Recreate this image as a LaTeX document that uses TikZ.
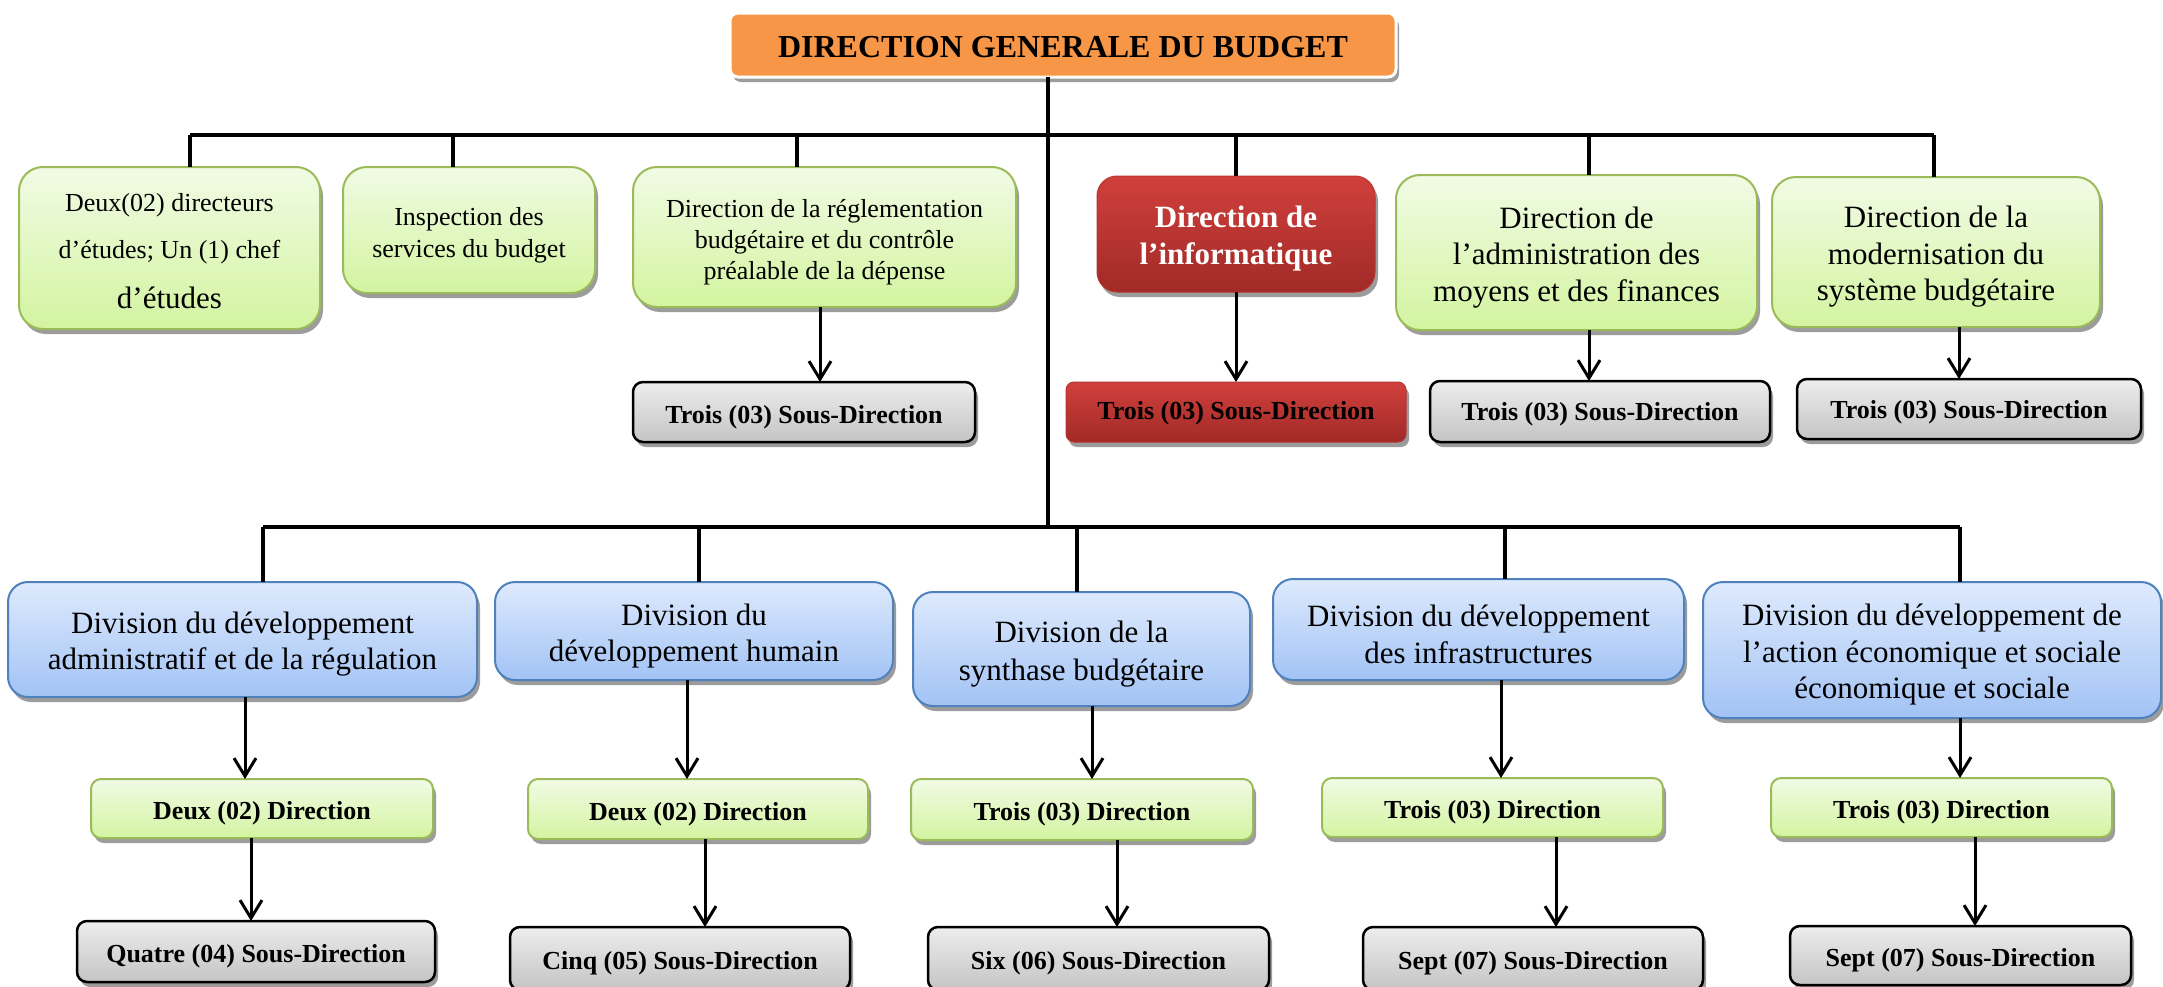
\documentclass[tikz,border=0pt]{standalone}
\usepackage{fontspec}
\setmainfont{Liberation Serif}
\usetikzlibrary{arrows.meta,shadows}

\definecolor{orangebox}{HTML}{F79646}
\definecolor{greentop}{HTML}{F1FBE5}
\definecolor{greenbot}{HTML}{D3F4A0}
\definecolor{greenline}{HTML}{9BBB59}
\definecolor{bluetop}{HTML}{DEEAFD}
\definecolor{bluebot}{HTML}{A2C3F5}
\definecolor{blueline}{HTML}{4F81BD}
\definecolor{redtop}{HTML}{D0403C}
\definecolor{redbot}{HTML}{A12A27}
\definecolor{redline}{HTML}{B83532}
\definecolor{graytop}{HTML}{EDEDED}
\definecolor{graybot}{HTML}{C4C4C4}
\definecolor{shadowgray}{HTML}{9C9C9C}

% box from its top-left (x1,y1) to bottom-right (x2,y2) corner, with its text set slightly low
\newcommand\boxat[8]{%
  \node[#1,anchor=north west,minimum width={#5-#3},minimum height={#6-#4}] (#2) at (#3,#4) {};
  \node[boxtext,#7] (#2-text) at ([yshift=-5pt]#2.center) {#8};}

\begin{document}
\begin{tikzpicture}[x=1pt,y=-1pt,
  shadowed/.style={drop shadow={shadow xshift=3pt,shadow yshift=-5pt,fill=shadowgray,opacity=1}},
  basebox/.style={shadowed,inner sep=0pt,outer sep=0pt},
  boxtext/.style={inner sep=0pt,align=center},
  titlebox/.style={basebox,fill=orangebox,draw=white,line width=3pt,rounded corners=8pt},
  leafgreen/.style={basebox,draw=greenline,line width=2pt,top color=greentop,bottom color=greenbot},
  bigdir/.style={leafgreen,rounded corners=24pt},
  smalldir/.style={leafgreen,rounded corners=10pt},
  reddir/.style={basebox,draw=redline,line width=1pt,top color=redtop,bottom color=redbot,rounded corners=20pt},
  redsub/.style={basebox,draw=redline,line width=1pt,top color=redtop,bottom color=redbot,rounded corners=8pt},
  divbox/.style={basebox,draw=blueline,line width=2pt,top color=bluetop,bottom color=bluebot,rounded corners=20pt},
  subbox/.style={basebox,draw=black,line width=2.5pt,top color=graytop,bottom color=graybot,rounded corners=10pt},
  boldlabel/.style={font=\bfseries\fontsize{26}{30}\selectfont},
  conn/.style={line width=3.5pt},
  arr/.style={line width=3pt,-{Straight Barb[length=18pt,width=22pt,line width=3pt]}}
]
\useasboundingbox (0,0) rectangle (2163,986);
\fill[white] (0,0) rectangle (2163,986);

% head of the organisation
\boxat{titlebox}{T}{730}{13}{1396}{77}{yshift=3pt,font=\bfseries\fontsize{32}{38}\selectfont}{DIRECTION GENERALE DU BUDGET}

% first level
\boxat{bigdir}{A1}{19}{167}{320}{329}{yshift=2pt,font=\fontsize{26}{47}\selectfont}{Deux(02) directeurs\\d’études; Un (1) chef\\[3pt]{\fontsize{31}{37}\selectfont d’études}}
\boxat{bigdir}{A2}{343}{167}{595}{293}{font=\fontsize{26}{32}\selectfont}{Inspection des\\services du budget}
\boxat{bigdir}{A3}{633}{167}{1016}{307}{font=\fontsize{26}{31}\selectfont}{Direction de la réglementation\\budgétaire et du contrôle\\préalable de la dépense}
\boxat{reddir}{A4}{1097}{176}{1375}{292}{text=white,font=\bfseries\fontsize{31}{37}\selectfont}{Direction de\\l’informatique}
\boxat{bigdir}{A5}{1396}{175}{1757}{330}{font=\fontsize{31}{36.5}\selectfont}{Direction de\\l’administration des\\moyens et des finances}
\boxat{bigdir}{A6}{1772}{177}{2100}{327}{font=\fontsize{31}{36.5}\selectfont}{Direction de la\\modernisation du\\système budgétaire}

\boxat{subbox}{SA3}{633}{382}{975}{442}{boldlabel}{Trois (03) Sous-Direction}
\boxat{redsub}{SA4}{1066}{382}{1406}{442}{boldlabel,yshift=4pt}{Trois (03) Sous-Direction}
\boxat{subbox}{SA5}{1430}{381}{1770}{442}{boldlabel,yshift=2pt}{Trois (03) Sous-Direction}
\boxat{subbox}{SA6}{1797}{379}{2141}{439}{boldlabel,yshift=2pt}{Trois (03) Sous-Direction}

% divisions
\boxat{divbox}{B1}{8}{582}{477}{697}{font=\fontsize{31}{36}\selectfont}{Division du développement\\administratif et de la régulation}
\boxat{divbox}{B2}{495}{582}{893}{680}{font=\fontsize{31}{36}\selectfont}{Division du\\développement humain}
\boxat{divbox}{B3}{913}{592}{1250}{706}{font=\fontsize{31}{38}\selectfont}{Division de la\\synthase budgétaire}
\boxat{divbox}{B4}{1273}{579}{1684}{680}{font=\fontsize{31}{37}\selectfont}{Division du développement\\des infrastructures}
\boxat{divbox}{B5}{1703}{582}{2161}{718}{font=\fontsize{31}{36.5}\selectfont}{Division du développement de\\l’action économique et sociale\\économique et sociale}

\boxat{smalldir}{G1}{91}{779}{433}{838}{boldlabel}{Deux (02) Direction}
\boxat{smalldir}{G2}{528}{779}{868}{839}{boldlabel}{Deux (02) Direction}
\boxat{smalldir}{G3}{911}{779}{1253}{840}{boldlabel}{Trois (03) Direction}
\boxat{smalldir}{G4}{1322}{778}{1663}{837}{boldlabel}{Trois (03) Direction}
\boxat{smalldir}{G5}{1771}{778}{2112}{837}{boldlabel}{Trois (03) Direction}

\boxat{subbox}{S1}{77}{921}{435}{982}{boldlabel}{Quatre (04) Sous-Direction}
\boxat{subbox}{S2}{510}{927}{850}{990}{boldlabel}{Cinq (05) Sous-Direction}
\boxat{subbox}{S3}{928}{927}{1269}{990}{boldlabel}{Six (06) Sous-Direction}
\boxat{subbox}{S4}{1363}{927}{1703}{990}{boldlabel}{Sept (07) Sous-Direction}
\boxat{subbox}{S5}{1790}{926}{2131}{985}{boldlabel}{Sept (07) Sous-Direction}

% bus points
\coordinate (trunk) at (1048,135);
\coordinate (trunkend) at (1048,527);
\coordinate (dA1) at (190,135);
\coordinate (dA2) at (453,135);
\coordinate (dA3) at (797,135);
\coordinate (dA4) at (1236,135);
\coordinate (dA5) at (1589,135);
\coordinate (dA6) at (1934,135);
\coordinate (dB1) at (263,527);
\coordinate (dB2) at (699,527);
\coordinate (dB3) at (1077,527);
\coordinate (dB4) at (1505,527);
\coordinate (dB5) at (1960,527);

% arrow columns
\coordinate (xA3) at (820,0);
\coordinate (xA4) at (1236,0);
\coordinate (xA5) at (1589,0);
\coordinate (xA6) at (1959,0);
\coordinate (xB1) at (245,0);
\coordinate (xB2) at (687,0);
\coordinate (xB3) at (1092,0);
\coordinate (xB4) at (1501,0);
\coordinate (xB5) at (1960,0);
\coordinate (xG1) at (251,0);
\coordinate (xG2) at (705,0);
\coordinate (xG3) at (1117,0);
\coordinate (xG4) at (1556,0);
\coordinate (xG5) at (1975,0);

% trunk and buses
\draw[conn] (T.south -| trunk) -- (trunkend);
\draw[conn] (dA1) -- (dA6);
\draw[conn] (dB1) -- (dB5);
\foreach \n in {A1,A2,A3,A4,A5,A6,B1,B2,B3,B4,B5}
  \draw[conn] (d\n) -- (d\n |- \n.north);

% arrows to the sub-directions
\foreach \n in {A3,A4,A5,A6}
  \draw[arr] (\n.south -| x\n) -- (S\n.north -| x\n);
\foreach \n in {1,...,5}
  \draw[arr] (B\n.south -| xB\n) -- (G\n.north -| xB\n);
\foreach \n in {1,...,5}
  \draw[arr] (G\n.south -| xG\n) -- (S\n.north -| xG\n);
\end{tikzpicture}
\end{document}
